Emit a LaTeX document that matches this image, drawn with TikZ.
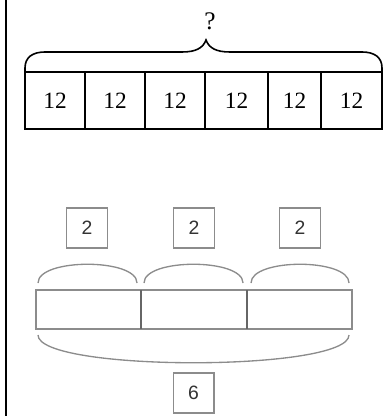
\documentclass[tikz,border=0pt]{standalone}
\usepackage{fontspec}
\setmainfont{Liberation Serif}
\newfontfamily\digitfont{Liberation Sans}
\tikzset{
  toprow/.style={line width=1.2pt},
  partline/.style={draw=black!45, line width=1pt},
  partbox/.style={partline, minimum width=30.5pt, minimum height=30pt, inner sep=0pt,
    font=\digitfont\fontsize{14.5}{16}\selectfont, text=black!80}
}
\begin{document}
\begin{tikzpicture}[x=0.75pt,y=-0.75pt]
  \useasboundingbox (0,0) rectangle (387,416);
  \draw[line width=2pt] (6,0) -- (6,416);
  % six equal parts of the unknown total
  \foreach \xa/\xb [count=\i] in {25/85,85/145,145/205,205/268,268/321,321/382} {
    \draw[toprow] (\xa,72) rectangle (\xb,129) node[pos=.5, font=\fontsize{17.5}{20}\selectfont] (cell\i) {12};
  }
  \draw[toprow] (25,72) -- (25,68) .. controls (25,57) and (33,52) .. (45,52) -- (182,52)
    .. controls (196,52) and (203,48) .. (206,40) .. controls (209,48) and (216,52) .. (230,52)
    -- (362,52) .. controls (374,52) and (382,57) .. (382,68) -- (382,72);
  \node[font=\fontsize{19}{22}\selectfont] (total) at (210,21) {?};
  % three parts making 6
  \foreach \xc/\xa/\xb [count=\i] in {87/38/137,194/144/243,300/251/349} {
    \node[partbox] (part\i) at (\xc,228) {2};
    \draw[partline] (\xa,283) .. controls (\xa,258) and (\xb,258) .. (\xb,283);
  }
  \draw[partline] (36,290) rectangle (352,329);
  \draw[partline, draw=black!60] (141,290) -- (141,329) (247,290) -- (247,329);
  \draw[partline] (38,335) .. controls (38,372) and (349,372) .. (349,335);
  \node[partbox] (whole) at (193.5,393) {6};
\end{tikzpicture}
\end{document}
